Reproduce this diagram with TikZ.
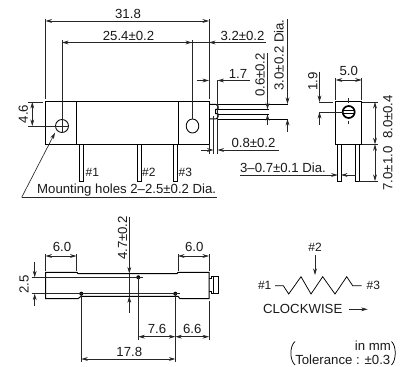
\documentclass[tikz,border=0pt]{standalone}
\usepackage{fontspec}
\setmainfont{Liberation Sans}
\usetikzlibrary{arrows.meta}
\tikzset{
  dim/.style={line width=0.65pt,black!85},
  arr/.style={dim,-{Stealth[length=6.5pt,width=3.8pt]}},
  darr/.style={dim,{Stealth[length=6.5pt,width=3.8pt]}-{Stealth[length=6.5pt,width=3.8pt]}},
  body/.style={line width=1pt,black},
  lab/.style={font=\fontsize{13.2}{14}\selectfont,inner sep=0pt,black!90},
  small/.style={font=\fontsize{12}{13}\selectfont,inner sep=0pt,black!90},
  vlab/.style={lab,rotate=90},
}
\begin{document}
\begin{tikzpicture}[x=1pt,y=-1pt]
\useasboundingbox (0,0) rectangle (403,366);
% FRONT VIEW
\draw[body] (45.5,102) rectangle (209,144.3);
\draw[body] (76.5,102)--(76.5,144.3) (178,102)--(178,144.3);
\draw[line width=0.85pt] (62,126) circle (6.5) (192.5,126) ellipse (6.3 and 7);
\foreach \a/\b in {79.5/83,137/141,173.5/177}
  \draw[line width=0.85pt] (\a,144.3)--(\a,181)--(\b,181)--(\b,144.3);
% knob
\draw[body] (209.5,104.5)--(216,104.5)--(218,106)--(218,109)--(215.5,109.5)--(215.5,113.5)--(218,114)--(218,117)--(216,119)--(209.5,119);
\draw[line width=0.75pt] (218,104)--(288,104) (218,119)--(288,119) (218,109.3)--(268.5,109.3) (218,114.3)--(268.5,114.3);
% 31.8
\draw[dim] (45.5,19)--(45.5,99) (209,19)--(209,99);
\draw[darr] (45.5,21)--(209,21);
\node[lab] at (128,13.5) {31.8};
% 25.4
\draw[dim] (62,40)--(62,133) (192,40)--(192,119);
\draw[arr] (209,42.5)--(62,42.5);
\draw[arr] (175,42.5)--(192,42.5);
\node[lab] at (128.5,36) {25.4±0.2};
% 3.2
\draw[arr] (266,42.5)--(209,42.5);
\node[lab] at (242.5,35.5) {3.2±0.2};
% 1.7
\draw[arr] (197,80.5)--(209,80.5);
\draw[arr] (250,80.5)--(217.5,80.5);
\node[lab] at (238,73.5) {1.7};
\draw[dim] (209,144)--(209,153.5) (213.5,116)--(213.5,153.5) (217.5,80)--(217.5,153.5);
% 0.8
\draw[arr] (201,150)--(213.5,150);
\draw[arr] (279,150)--(217.5,150);
\node[lab] at (253.5,143) {0.8±0.2};
% 0.6
\draw[arr] (267.5,53)--(267.5,109.3);
\draw[arr] (267.5,125)--(267.5,114.3);
\node[vlab] at (260,75) {0.6±0.2};
% 3.0
\draw[arr] (287.5,19.5)--(287.5,104);
\draw[arr] (287.5,132)--(287.5,119);
\node[vlab] at (279,55) {3.0±0.2 Dia.};
% 4.6
\draw[dim] (28,102)--(43,102) (28,126)--(68.5,126);
\draw[darr] (32.3,102)--(32.3,126);
\node[vlab] at (23.3,114) {4.6};
% pin labels
\node[small,anchor=west] at (85.5,172.5) {\#1};
\node[small,anchor=west] at (142,172.5) {\#2};
\node[small,anchor=west] at (178.5,172.5) {\#3};
% mounting
\node[lab] (mt) at (126.7,190.5) {Mounting holes 2–2.5±0.2 Dia.};
\draw[dim] (216.7,197.3)--(21.7,197.3);
\draw[arr] (21.7,197.3)--(55,132.7);
% SIDE VIEW
\draw[body] (335.7,102) rectangle (361.7,144.3);
\foreach \a/\b in {337.7/341,355.7/359}
  \draw[line width=0.85pt] (\a,144.3)--(\a,181)--(\b,181)--(\b,144.3);
\draw[line width=1.7pt] (348.7,112) circle (6);
\draw[line width=1.5pt] (342.5,110.7)--(355,110.7) (342.5,113.3)--(355,113.3);
\draw[dim] (348.7,98.5)--(348.7,103) (348.7,121)--(348.7,124);
% 5.0
\draw[dim] (335.7,78)--(335.7,100) (361.7,78)--(361.7,100);
\draw[darr] (335.7,80)--(361.7,80);
\node[lab] at (348.7,71) {5.0};
% 1.9
\draw[dim] (319,102)--(333,102) (319,112)--(343,112);
\draw[arr] (319.5,71.7)--(319.5,102);
\draw[arr] (319.5,125)--(319.5,112);
\node[vlab] at (312.7,81.5) {1.9};
% 8.0 7.0
\draw[dim] (362,102)--(378,102) (362,144.3)--(378,144.3) (359,181)--(378,181);
\draw[darr] (375,102)--(375,144.3);
\draw[darr] (375,144.3)--(375,181);
\node[vlab] at (387.7,117) {8.0±0.4};
\node[vlab] at (387.7,168.5) {7.0±1.0};
% 3-0.7
\node[lab] at (283,167.5) {3–0.7±0.1 Dia.};
\draw[arr] (240,175)--(337.7,175);
\draw[arr] (355.7,175)--(341,175);
% BOTTOM VIEW
\draw[body] (45.5,272.3)--(77,272.3)--(78,273.7)--(177,273.7)--(178,272.3)--(209,272.3)--(209,298.7)--(180,298.7)--(178,296.3)--(81,296.3)--(78,298.7)--(45.5,298.7)--cycle;
\draw[line width=0.85pt] (209,278)--(211,278)--(211,276.7)--(218,276.7)--(218,293)--(211,293)--(211,291.7)--(209,291.7);
\draw[line width=0.85pt] (213,277)--(213,293);
\fill (138.3,277.3) circle (2) (81.3,293.7) circle (2) (175.3,293.7) circle (2);
\draw[dim] (31.7,277.3)--(142.7,277.3) (31.7,293.7)--(180,293.7);
% 2.5
\draw[arr] (34.7,261.7)--(34.7,277.3);
\draw[arr] (34.7,306)--(34.7,293.7);
\node[vlab] at (24,284.3) {2.5};
% 4.7
\draw[arr] (129.3,217.3)--(129.3,273.5);
\draw[arr] (129.3,312.7)--(129.3,296.3);
\draw[dim] (129.3,273.5)--(129.3,296.3);
\node[vlab] at (122.5,238) {4.7±0.2};
% 6.0
\draw[dim] (45.5,254)--(45.5,271) (76.5,254)--(76.5,271) (178,254)--(178,271) (209,254)--(209,271);
\draw[darr] (45.5,256)--(76.5,256);
\draw[darr] (178,256)--(209,256);
\node[lab] at (62,247) {6.0};
\node[lab] at (194.3,247) {6.0};
% bottom dims
\draw[dim] (138.3,277.3)--(138.3,339.5) (81.3,293.7)--(81.3,361.5) (175.3,293.7)--(175.3,361.5) (209,301)--(209,340);
\draw[darr] (138.3,336.7)--(175.3,336.7);
\draw[darr] (175.3,336.7)--(209,336.7);
\draw[darr] (81.3,359)--(175.3,359);
\node[lab] at (157,329) {7.6};
\node[lab] at (192.3,329) {6.6};
\node[lab] at (129.3,352) {17.8};
% SCHEMATIC
\node[small] at (315,247.7) {\#2};
\draw[arr] (315,255)--(315,275);
\node[small] at (264.7,285.7) {\#1};
\node[small] at (373.3,285.7) {\#3};
\draw[line width=0.75pt,line join=miter] (275,285.7)--(283.3,285.7)--(288.7,294)--(301,276.7)--(311,294)--(322.7,276.7)--(335,294)--(346.7,276.7)--(352.7,285.7)--(361.7,285.7);
\node[lab] at (302.7,309.3) {CLOCKWISE};
\draw[arr] (349,309.3)--(367.7,309.3);
% TOLERANCE
\node[lab,anchor=east] at (391,345.5) {in mm};
\node[lab,anchor=east] at (390.5,359.5) {Tolerance : ±0.3};
\draw[line width=0.75pt] (295,341.5) .. controls (289.5,346) and (289.5,360) .. (295,365);
\draw[line width=0.75pt] (391.5,341.5) .. controls (396.5,346) and (396.5,360) .. (391.5,365);
\end{tikzpicture}
\end{document}
